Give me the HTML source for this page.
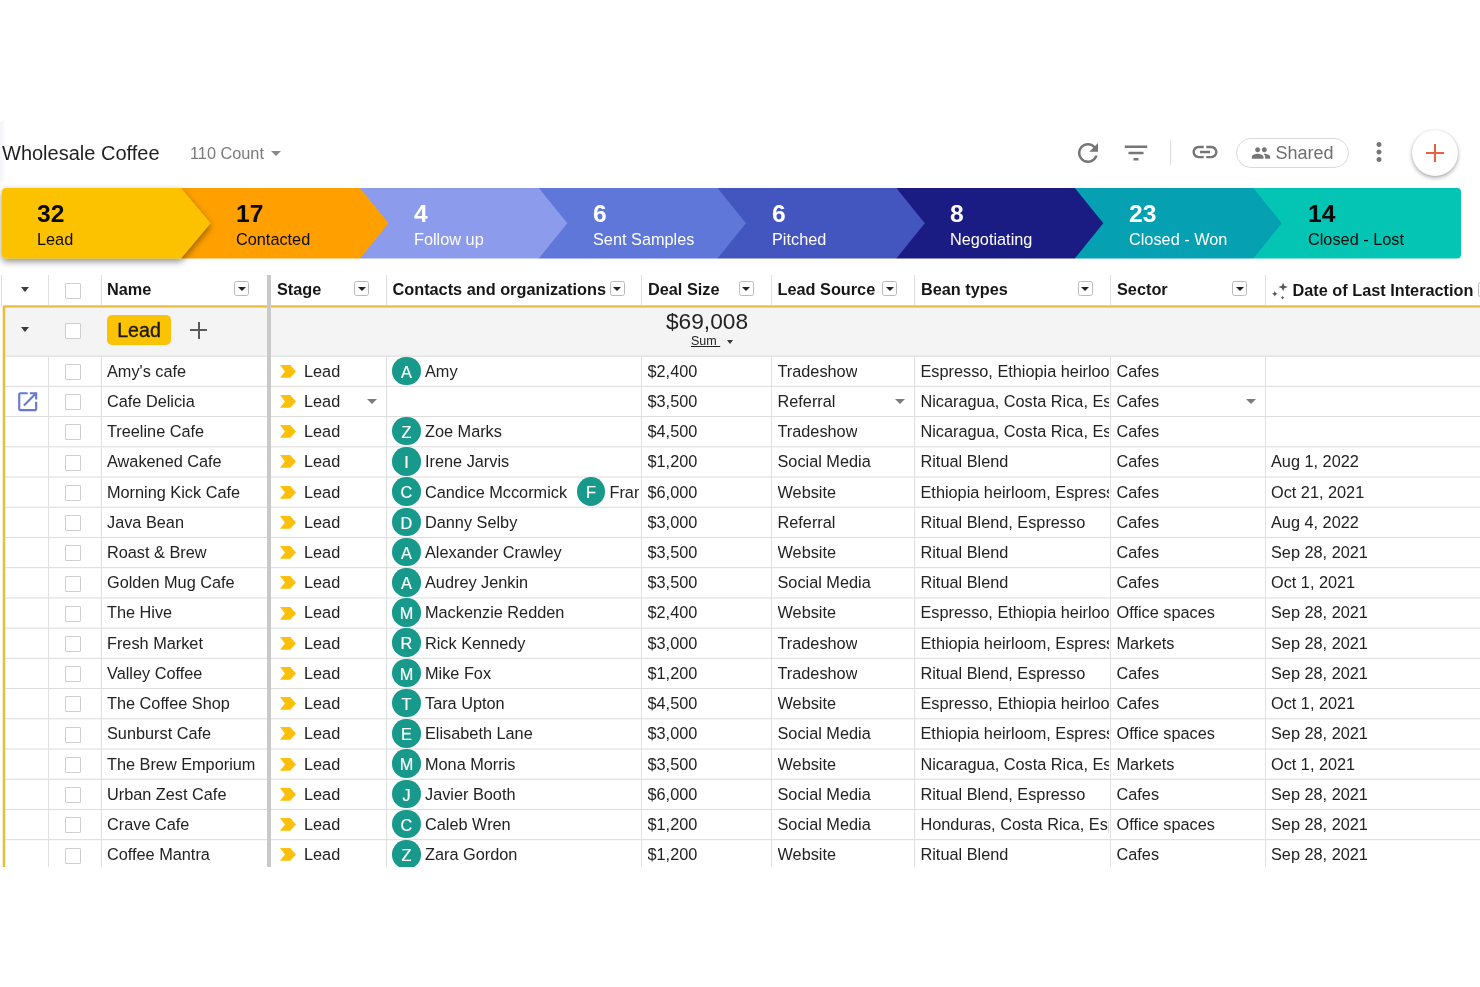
<!DOCTYPE html><html><head><meta charset="utf-8"><title>Wholesale Coffee</title><style>
*{box-sizing:border-box;margin:0;padding:0}
html,body{width:1480px;height:987px;background:#fff;overflow:hidden}
body{font-family:"Liberation Sans",sans-serif;color:#222;position:relative}
.abs{position:absolute}
.title{left:2px;top:141px;font-size:20px;line-height:24px;color:#1f1f1f;white-space:nowrap}
.count{left:190px;top:142.7px;font-size:16.3px;line-height:20px;color:#7a7a7a;white-space:nowrap}
.tri{width:0;height:0;border-left:5px solid transparent;border-right:5px solid transparent;border-top:5px solid #8a8a8a}
.pill{left:1236px;top:138px;width:113px;height:30px;border:1px solid #dadada;border-radius:15px;background:#fff}
.shared{left:1275.5px;top:141.6px;font-size:18px;line-height:22px;color:#6e6e6e}
.fab{left:1412px;top:130px;width:46px;height:46px;border-radius:50%;background:#fff;box-shadow:0 2px 4px rgba(0,0,0,.32),0 0 2px rgba(0,0,0,.12)}
.num{font-weight:bold;font-size:24.6px;line-height:28px;white-space:nowrap}
.lab{font-size:16.3px;line-height:20px;white-space:nowrap}
.w{color:#fff}.k{color:#0a0a0a}
.vl{width:1px;background:#e0e0e0}
.hl{height:1px;background:#dedede;left:5px;right:0}
.hd{font-weight:bold;font-size:16.3px;line-height:20px;top:280px;color:#161616;white-space:nowrap}
.dd{width:15px;height:15px;top:282px;border:1px solid #bbb;border-radius:2.5px;background:#fff}
.dd:after{content:"";position:absolute;left:2.5px;top:5px;border-left:4px solid transparent;border-right:4px solid transparent;border-top:4px solid #222}
.cb{width:16px;height:16px;border:1px solid #cfcfcf;border-radius:1px;background:#fff;left:65px}
.t{font-size:16.3px;line-height:30px;height:30px;white-space:nowrap;overflow:hidden;color:#222}
.av{width:28.2px;height:28.6px;border-radius:50%;background:#17998b;color:#fff;font-size:16.3px;line-height:30px;text-align:center;-webkit-text-stroke:0.2px #fff}
</style></head><body><div class="abs" style="left:0;top:0;width:1480px;height:987px;will-change:transform">
<div class="abs" style="left:0;top:120px;width:6px;height:62px;border-top-left-radius:4px;background:linear-gradient(90deg,#f3f3f9,#fff)"></div>
<div class="abs title">Wholesale Coffee</div>
<div class="abs count">110 Count</div>
<div class="abs tri" style="left:271px;top:151px"></div>
<svg class="abs" style="left:1073.3px;top:137.5px" width="30" height="30" viewBox="0 0 24 24"><path fill="#757575" d="M17.65 6.35C16.2 4.9 14.21 4 12 4c-4.42 0-7.99 3.58-7.99 8s3.57 8 7.99 8c3.73 0 6.84-2.55 7.73-6h-2.08c-.82 2.33-3.04 4-5.65 4-3.31 0-6-2.69-6-6s2.69-6 6-6c1.66 0 3.14.69 4.22 1.78L13 11h7V4l-2.35 2.35z"/></svg>
<svg class="abs" style="left:1121px;top:137.6px" width="30" height="30" viewBox="0 0 24 24"><path fill="#757575" d="M10 18h4v-2h-4v2zM3 6v2h18V6H3zm3 7h12v-2H6v2z"/></svg>
<div class="abs" style="left:1170px;top:140px;width:1px;height:25px;background:#dcdcdc"></div>
<svg class="abs" style="left:1190.2px;top:137.3px" width="30" height="30" viewBox="0 0 24 24"><path fill="#757575" d="M3.9 12c0-1.71 1.39-3.1 3.1-3.1h4V7H7c-2.76 0-5 2.24-5 5s2.24 5 5 5h4v-1.9H7c-1.71 0-3.1-1.39-3.1-3.1zM8 13h8v-2H8v2zm9-6h-4v1.9h4c1.71 0 3.1 1.39 3.1 3.1s-1.39 3.1-3.1 3.1h-4V17h4c2.76 0 5-2.24 5-5s-2.24-5-5-5z"/></svg>
<div class="abs pill"></div>
<svg class="abs" style="left:1251.4px;top:142.8px" width="20" height="20" viewBox="0 0 24 24"><path fill="#757575" d="M16 11c1.66 0 2.99-1.34 2.99-3S17.660 5 16 5c-1.660 0-3 1.340-3 3s1.340 3 3 3zm-8 0c1.660 0 2.990-1.340 2.990-3S9.660 5 8 5C6.340 5 5 6.340 5 8s1.340 3 3 3zm0 2c-2.330 0-7 1.170-7 3.500V19h14v-2.500c0-2.330-4.670-3.500-7-3.500zm8 0c-.290 0-.620.020-.970.050 1.160.840 1.970 1.970 1.970 3.450V19h6v-2.500c0-2.330-4.670-3.500-7-3.500z"/></svg>
<div class="abs shared">Shared</div>
<svg class="abs" style="left:1363.5px;top:137.1px" width="30" height="30" viewBox="0 0 24 24"><path fill="#757575" d="M12 8c1.100 0 2-.900 2-2s-.900-2-2-2-2 .900-2 2 .900 2 2 2zm0 2c-1.100 0-2 .900-2 2s.900 2 2 2 2-.900 2-2-.900-2-2-2zm0 6c-1.100 0-2 .900-2 2s.900 2 2 2 2-.900 2-2-.900-2-2-2z"/></svg>
<div class="abs fab"></div>
<div class="abs" style="left:1426px;top:151.5px;width:18px;height:2.2px;background:#e8603c"></div>
<div class="abs" style="left:1433.9px;top:143.7px;width:2.2px;height:18px;background:#e8603c"></div>
<svg class="abs" style="left:0;top:170px" width="1480" height="110" viewBox="0 170 1480 110"><defs><filter id="sh" x="-10%" y="-30%" width="125%" height="170%"><feDropShadow dx="0" dy="3" stdDeviation="3.8" flood-color="#000" flood-opacity="0.45"/></filter></defs><path d="M1253.3 188H1457Q1461 188 1461 192V254.5Q1461 258.5 1457 258.5H1253.3Z" fill="#04c4b3"/><path d="M1074.8 188H1253.3L1281.8 223.25L1253.3 258.5H1074.8Z" fill="#05a0b2"/><path d="M896.3 188H1074.8L1103.3 223.25L1074.8 258.5H896.3Z" fill="#1a1c83"/><path d="M717.5 188H896.3L924.8 223.25L896.3 258.5H717.5Z" fill="#4355be"/><path d="M538.8 188H717.5L746.0 223.25L717.5 258.5H538.8Z" fill="#5e77d9"/><path d="M360 188H538.8L567.3 223.25L538.8 258.5H360Z" fill="#8c9beb"/><path d="M181 188H360L388.5 223.25L360 258.5H181Z" fill="#ffa000"/><path d="M6 188H181L210.5 223.25L181 258.5H6Q2 258.5 2 254.5V192Q2 188 6 188Z" fill="#fcc204" filter="url(#sh)"/></svg>
<div class="abs num k" style="left:37px;top:200.1px">32</div>
<div class="abs lab k" style="left:37px;top:228.6px">Lead</div>
<div class="abs num k" style="left:236px;top:200.1px">17</div>
<div class="abs lab k" style="left:236px;top:228.6px">Contacted</div>
<div class="abs num w" style="left:414px;top:200.1px">4</div>
<div class="abs lab w" style="left:414px;top:228.6px">Follow up</div>
<div class="abs num w" style="left:593px;top:200.1px">6</div>
<div class="abs lab w" style="left:593px;top:228.6px">Sent Samples</div>
<div class="abs num w" style="left:772px;top:200.1px">6</div>
<div class="abs lab w" style="left:772px;top:228.6px">Pitched</div>
<div class="abs num w" style="left:950px;top:200.1px">8</div>
<div class="abs lab w" style="left:950px;top:228.6px">Negotiating</div>
<div class="abs num w" style="left:1129px;top:200.1px">23</div>
<div class="abs lab w" style="left:1129px;top:228.6px">Closed - Won</div>
<div class="abs num k" style="left:1308px;top:200.1px">14</div>
<div class="abs lab k" style="left:1308px;top:228.6px">Closed - Lost</div>
<div class="abs" style="left:0;top:270px;width:1480px;height:596.5px;overflow:hidden">
<div class="abs" style="left:3px;top:37px;width:1477px;height:49px;background:#f4f4f4"></div>
<div class="abs" style="left:1px;top:5px;width:1px;height:31px;background:#dcdcdc"></div>
<svg class="abs" style="left:0;top:36px" width="8" height="600" viewBox="0 0 8 600"><rect x="2.7" y="0" width="2.5" height="600" fill="#e9be3e"/></svg>
<svg class="abs" style="left:0;top:30px" width="1480" height="12" viewBox="0 0 1480 12"><rect x="3" y="5.3" width="1477" height="2.3" fill="#e9be3e"/></svg>
<svg class="abs" style="left:0;top:0" width="1480" height="600" viewBox="0 0 1480 600"><rect x="5" y="85.65" width="1475" height="1" fill="#dbdbdb"/><rect x="5" y="115.87" width="1475" height="1" fill="#dbdbdb"/><rect x="5" y="146.09" width="1475" height="1" fill="#dbdbdb"/><rect x="5" y="176.31" width="1475" height="1" fill="#dbdbdb"/><rect x="5" y="206.53" width="1475" height="1" fill="#dbdbdb"/><rect x="5" y="236.75" width="1475" height="1" fill="#dbdbdb"/><rect x="5" y="266.97" width="1475" height="1" fill="#dbdbdb"/><rect x="5" y="297.19" width="1475" height="1" fill="#dbdbdb"/><rect x="5" y="327.41" width="1475" height="1" fill="#dbdbdb"/><rect x="5" y="357.63" width="1475" height="1" fill="#dbdbdb"/><rect x="5" y="387.85" width="1475" height="1" fill="#dbdbdb"/><rect x="5" y="418.07" width="1475" height="1" fill="#dbdbdb"/><rect x="5" y="448.29" width="1475" height="1" fill="#dbdbdb"/><rect x="5" y="478.51" width="1475" height="1" fill="#dbdbdb"/><rect x="5" y="508.73" width="1475" height="1" fill="#dbdbdb"/><rect x="5" y="538.95" width="1475" height="1" fill="#dbdbdb"/><rect x="5" y="569.17" width="1475" height="1" fill="#dbdbdb"/><rect x="5" y="599.39" width="1475" height="1" fill="#dbdbdb"/></svg>
<div class="abs vl" style="left:48px;top:5px;height:30px"></div>
<div class="abs vl" style="left:48px;top:86px;height:700px"></div>
<div class="abs vl" style="left:101px;top:5px;height:30px"></div>
<div class="abs vl" style="left:101px;top:86px;height:700px"></div>
<div class="abs vl" style="left:386px;top:5px;height:30px"></div>
<div class="abs vl" style="left:386px;top:86px;height:700px"></div>
<div class="abs vl" style="left:641px;top:5px;height:30px"></div>
<div class="abs vl" style="left:641px;top:86px;height:700px"></div>
<div class="abs vl" style="left:771px;top:5px;height:30px"></div>
<div class="abs vl" style="left:771px;top:86px;height:700px"></div>
<div class="abs vl" style="left:914px;top:5px;height:30px"></div>
<div class="abs vl" style="left:914px;top:86px;height:700px"></div>
<div class="abs vl" style="left:1110px;top:5px;height:30px"></div>
<div class="abs vl" style="left:1110px;top:86px;height:700px"></div>
<div class="abs vl" style="left:1265px;top:5px;height:30px"></div>
<div class="abs vl" style="left:1265px;top:86px;height:700px"></div>
<div class="abs" style="left:267px;top:5px;width:4px;height:700px;background:#c9c9c9"></div>
<div class="abs" style="left:21px;top:16.600000000000023px;border-left:4px solid transparent;border-right:4px solid transparent;border-top:5px solid #3a3a3a;width:0;height:0"></div>
<div class="abs cb" style="top:12.5px"></div>
<div class="abs hd" style="left:107px;top:9px">Name</div>
<div class="abs dd" style="left:234px;top:11.199999999999989px"></div>
<div class="abs hd" style="left:277px;top:9px">Stage</div>
<div class="abs dd" style="left:354px;top:11.199999999999989px"></div>
<div class="abs hd" style="left:392.5px;top:9px">Contacts and organizations</div>
<div class="abs dd" style="left:609.5px;top:11.199999999999989px"></div>
<div class="abs hd" style="left:648px;top:9px">Deal Size</div>
<div class="abs dd" style="left:738.5px;top:11.199999999999989px"></div>
<div class="abs hd" style="left:777.5px;top:9px">Lead Source</div>
<div class="abs dd" style="left:882px;top:11.199999999999989px"></div>
<div class="abs hd" style="left:921px;top:9px">Bean types</div>
<div class="abs dd" style="left:1077.5px;top:11.199999999999989px"></div>
<div class="abs hd" style="left:1117px;top:9px">Sector</div>
<div class="abs dd" style="left:1232px;top:11.199999999999989px"></div>
<div class="abs hd" style="left:1292.5px;top:10px">Date of Last Interaction</div>
<div class="abs dd" style="left:1478px;top:12.199999999999989px"></div>
<svg class="abs" style="left:1270px;top:12px" width="20" height="20" viewBox="0 0 20 20"><g fill="#555"><path d="M13.1 0.8 L14.3 3.8 L17.9 5 L14.3 6.2 L13.1 9.2 L11.9 6.2 L8.3 5 L11.9 3.8Z"/><path d="M4.8 9 L5.7 10.9 L7.6 11.8 L5.7 12.7 L4.8 14.6 L3.9 12.7 L2 11.8 L3.9 10.9Z"/><path d="M12.6 13.7 L13.2 15.1 L14.6 15.7 L13.2 16.3 L12.6 17.7 L12 16.3 L10.6 15.7 L12 15.1Z"/></g></svg>
<div class="abs" style="left:21px;top:57px;border-left:4px solid transparent;border-right:4px solid transparent;border-top:5px solid #3a3a3a;width:0;height:0"></div>
<div class="abs cb" style="top:52.5px"></div>
<div class="abs" style="left:107px;top:45px;width:64px;height:30px;border-radius:5px;background:#fcc204;font-size:19.6px;line-height:30px;text-align:center;color:#1a1a1a;-webkit-text-stroke:0.35px #1a1a1a">Lead</div>
<div class="abs" style="left:190px;top:59px;width:17px;height:2px;background:#5a5a5a"></div>
<div class="abs" style="left:197.5px;top:51.5px;width:2px;height:17px;background:#5a5a5a"></div>
<div class="abs" style="left:642px;top:38px;width:130px;text-align:center;font-size:22.7px;line-height:26px;color:#222">$69,008</div>
<div class="abs" style="left:691px;top:64px;font-size:12.5px;line-height:14px;color:#222;text-decoration:underline;white-space:pre">Sum </div>
<div class="abs" style="left:727px;top:70px;border-left:3.8px solid transparent;border-right:3.8px solid transparent;border-top:4px solid #333;width:0;height:0"></div>
<div class="abs cb" style="top:94.0px"></div>
<div class="abs t" style="left:107px;top:85.5px;width:159px">Amy's cafe</div>
<svg class="abs" style="left:280px;top:94.8px" width="16" height="13" viewBox="0 0 16 13"><path fill="#fcc00c" d="M0 0H10.3L16 6.4L10.3 12.8H0L4.9 6.4Z"/></svg>
<div class="abs t" style="left:304px;top:85.5px">Lead</div>
<div class="abs" style="left:387px;top:86px;width:252.3px;height:31px;overflow:hidden">
<div class="abs av" style="left:5.4px;top:0.5px">A</div>
<div class="abs t" style="left:38.0px;top:-0.5px;overflow:visible">Amy</div>
</div>
<div class="abs t" style="left:647.5px;top:85.5px">$2,400</div>
<div class="abs t" style="left:777.5px;top:85.5px">Tradeshow</div>
<div class="abs t" style="left:920.5px;top:85.5px;width:188.5px">Espresso, Ethiopia heirloom</div>
<div class="abs t" style="left:1116.5px;top:85.5px">Cafes</div>
<div class="abs cb" style="top:124.2px"></div>
<div class="abs t" style="left:107px;top:115.5px;width:159px">Cafe Delicia</div>
<svg class="abs" style="left:280px;top:125.0px" width="16" height="13" viewBox="0 0 16 13"><path fill="#fcc00c" d="M0 0H10.3L16 6.4L10.3 12.8H0L4.9 6.4Z"/></svg>
<div class="abs t" style="left:304px;top:115.5px">Lead</div>
<div class="abs t" style="left:647.5px;top:115.5px">$3,500</div>
<div class="abs t" style="left:777.5px;top:115.5px">Referral</div>
<div class="abs t" style="left:920.5px;top:115.5px;width:188.5px">Nicaragua, Costa Rica, Espresso</div>
<div class="abs t" style="left:1116.5px;top:115.5px">Cafes</div>
<svg class="abs" style="left:14.5px;top:118.89999999999998px" width="25.4" height="25.4" viewBox="0 0 24 24"><path fill="#6478d4" d="M19 19H5V5h7V3H5c-1.110 0-2 .900-2 2v14c0 1.100.890 2 2 2h14c1.100 0 2-.900 2-2v-7h-2v7zM14 3v2h3.590l-9.830 9.830 1.410 1.410L19 6.410V10h2V3h-7z"/></svg>
<div class="abs" style="left:367px;top:129.3px;border-left:5px solid transparent;border-right:5px solid transparent;border-top:5px solid #7b7b7b;width:0;height:0"></div>
<div class="abs" style="left:894.5px;top:129.3px;border-left:5px solid transparent;border-right:5px solid transparent;border-top:5px solid #7b7b7b;width:0;height:0"></div>
<div class="abs" style="left:1245.5px;top:129.3px;border-left:5px solid transparent;border-right:5px solid transparent;border-top:5px solid #7b7b7b;width:0;height:0"></div>
<div class="abs cb" style="top:154.4px"></div>
<div class="abs t" style="left:107px;top:145.5px;width:159px">Treeline Cafe</div>
<svg class="abs" style="left:280px;top:155.2px" width="16" height="13" viewBox="0 0 16 13"><path fill="#fcc00c" d="M0 0H10.3L16 6.4L10.3 12.8H0L4.9 6.4Z"/></svg>
<div class="abs t" style="left:304px;top:145.5px">Lead</div>
<div class="abs" style="left:387px;top:146px;width:252.3px;height:31px;overflow:hidden">
<div class="abs av" style="left:5.4px;top:0.9px">Z</div>
<div class="abs t" style="left:38.0px;top:-0.5px;overflow:visible">Zoe Marks</div>
</div>
<div class="abs t" style="left:647.5px;top:145.5px">$4,500</div>
<div class="abs t" style="left:777.5px;top:145.5px">Tradeshow</div>
<div class="abs t" style="left:920.5px;top:145.5px;width:188.5px">Nicaragua, Costa Rica, Espresso</div>
<div class="abs t" style="left:1116.5px;top:145.5px">Cafes</div>
<div class="abs cb" style="top:184.6px"></div>
<div class="abs t" style="left:107px;top:175.5px;width:159px">Awakened Cafe</div>
<svg class="abs" style="left:280px;top:185.4px" width="16" height="13" viewBox="0 0 16 13"><path fill="#fcc00c" d="M0 0H10.3L16 6.4L10.3 12.8H0L4.9 6.4Z"/></svg>
<div class="abs t" style="left:304px;top:175.5px">Lead</div>
<div class="abs" style="left:387px;top:176px;width:252.3px;height:31px;overflow:hidden">
<div class="abs av" style="left:5.4px;top:1.1px">I</div>
<div class="abs t" style="left:38.0px;top:-0.5px;overflow:visible">Irene Jarvis</div>
</div>
<div class="abs t" style="left:647.5px;top:175.5px">$1,200</div>
<div class="abs t" style="left:777.5px;top:175.5px">Social Media</div>
<div class="abs t" style="left:920.5px;top:175.5px;width:188.5px">Ritual Blend</div>
<div class="abs t" style="left:1116.5px;top:175.5px">Cafes</div>
<div class="abs t" style="left:1271px;top:175.5px">Aug 1, 2022</div>
<div class="abs cb" style="top:214.8px"></div>
<div class="abs t" style="left:107px;top:206.5px;width:159px">Morning Kick Cafe</div>
<svg class="abs" style="left:280px;top:215.6px" width="16" height="13" viewBox="0 0 16 13"><path fill="#fcc00c" d="M0 0H10.3L16 6.4L10.3 12.8H0L4.9 6.4Z"/></svg>
<div class="abs t" style="left:304px;top:206.5px">Lead</div>
<div class="abs" style="left:387px;top:207px;width:252.3px;height:31px;overflow:hidden">
<div class="abs av" style="left:5.4px;top:0.3px">C</div>
<div class="abs t" style="left:38.0px;top:-0.5px;overflow:visible">Candice Mccormick</div>
<div class="abs av" style="left:189.9px;top:0.3px">F</div>
<div class="abs t" style="left:222.5px;top:-0.5px;overflow:visible">Francis Hall</div>
</div>
<div class="abs t" style="left:647.5px;top:206.5px">$6,000</div>
<div class="abs t" style="left:777.5px;top:206.5px">Website</div>
<div class="abs t" style="left:920.5px;top:206.5px;width:188.5px">Ethiopia heirloom, Espresso</div>
<div class="abs t" style="left:1116.5px;top:206.5px">Cafes</div>
<div class="abs t" style="left:1271px;top:206.5px">Oct 21, 2021</div>
<div class="abs cb" style="top:245.1px"></div>
<div class="abs t" style="left:107px;top:236.5px;width:159px">Java Bean</div>
<svg class="abs" style="left:280px;top:245.9px" width="16" height="13" viewBox="0 0 16 13"><path fill="#fcc00c" d="M0 0H10.3L16 6.4L10.3 12.8H0L4.9 6.4Z"/></svg>
<div class="abs t" style="left:304px;top:236.5px">Lead</div>
<div class="abs" style="left:387px;top:237px;width:252.3px;height:31px;overflow:hidden">
<div class="abs av" style="left:5.4px;top:0.6px">D</div>
<div class="abs t" style="left:38.0px;top:-0.5px;overflow:visible">Danny Selby</div>
</div>
<div class="abs t" style="left:647.5px;top:236.5px">$3,000</div>
<div class="abs t" style="left:777.5px;top:236.5px">Referral</div>
<div class="abs t" style="left:920.5px;top:236.5px;width:188.5px">Ritual Blend, Espresso</div>
<div class="abs t" style="left:1116.5px;top:236.5px">Cafes</div>
<div class="abs t" style="left:1271px;top:236.5px">Aug 4, 2022</div>
<div class="abs cb" style="top:275.3px"></div>
<div class="abs t" style="left:107px;top:266.5px;width:159px">Roast &amp; Brew</div>
<svg class="abs" style="left:280px;top:276.1px" width="16" height="13" viewBox="0 0 16 13"><path fill="#fcc00c" d="M0 0H10.3L16 6.4L10.3 12.8H0L4.9 6.4Z"/></svg>
<div class="abs t" style="left:304px;top:266.5px">Lead</div>
<div class="abs" style="left:387px;top:267px;width:252.3px;height:31px;overflow:hidden">
<div class="abs av" style="left:5.4px;top:0.8px">A</div>
<div class="abs t" style="left:38.0px;top:-0.5px;overflow:visible">Alexander Crawley</div>
</div>
<div class="abs t" style="left:647.5px;top:266.5px">$3,500</div>
<div class="abs t" style="left:777.5px;top:266.5px">Website</div>
<div class="abs t" style="left:920.5px;top:266.5px;width:188.5px">Ritual Blend</div>
<div class="abs t" style="left:1116.5px;top:266.5px">Cafes</div>
<div class="abs t" style="left:1271px;top:266.5px">Sep 28, 2021</div>
<div class="abs cb" style="top:305.5px"></div>
<div class="abs t" style="left:107px;top:296.5px;width:159px">Golden Mug Cafe</div>
<svg class="abs" style="left:280px;top:306.3px" width="16" height="13" viewBox="0 0 16 13"><path fill="#fcc00c" d="M0 0H10.3L16 6.4L10.3 12.8H0L4.9 6.4Z"/></svg>
<div class="abs t" style="left:304px;top:296.5px">Lead</div>
<div class="abs" style="left:387px;top:297px;width:252.3px;height:31px;overflow:hidden">
<div class="abs av" style="left:5.4px;top:1.0px">A</div>
<div class="abs t" style="left:38.0px;top:-0.5px;overflow:visible">Audrey Jenkin</div>
</div>
<div class="abs t" style="left:647.5px;top:296.5px">$3,500</div>
<div class="abs t" style="left:777.5px;top:296.5px">Social Media</div>
<div class="abs t" style="left:920.5px;top:296.5px;width:188.5px">Ritual Blend</div>
<div class="abs t" style="left:1116.5px;top:296.5px">Cafes</div>
<div class="abs t" style="left:1271px;top:296.5px">Oct 1, 2021</div>
<div class="abs cb" style="top:335.7px"></div>
<div class="abs t" style="left:107px;top:326.5px;width:159px">The Hive</div>
<svg class="abs" style="left:280px;top:336.5px" width="16" height="13" viewBox="0 0 16 13"><path fill="#fcc00c" d="M0 0H10.3L16 6.4L10.3 12.8H0L4.9 6.4Z"/></svg>
<div class="abs t" style="left:304px;top:326.5px">Lead</div>
<div class="abs" style="left:387px;top:327px;width:252.3px;height:31px;overflow:hidden">
<div class="abs av" style="left:5.4px;top:1.2px">M</div>
<div class="abs t" style="left:38.0px;top:-0.5px;overflow:visible">Mackenzie Redden</div>
</div>
<div class="abs t" style="left:647.5px;top:326.5px">$2,400</div>
<div class="abs t" style="left:777.5px;top:326.5px">Website</div>
<div class="abs t" style="left:920.5px;top:326.5px;width:188.5px">Espresso, Ethiopia heirloom</div>
<div class="abs t" style="left:1116.5px;top:326.5px">Office spaces</div>
<div class="abs t" style="left:1271px;top:326.5px">Sep 28, 2021</div>
<div class="abs cb" style="top:365.9px"></div>
<div class="abs t" style="left:107px;top:357.5px;width:159px">Fresh Market</div>
<svg class="abs" style="left:280px;top:366.7px" width="16" height="13" viewBox="0 0 16 13"><path fill="#fcc00c" d="M0 0H10.3L16 6.4L10.3 12.8H0L4.9 6.4Z"/></svg>
<div class="abs t" style="left:304px;top:357.5px">Lead</div>
<div class="abs" style="left:387px;top:358px;width:252.3px;height:31px;overflow:hidden">
<div class="abs av" style="left:5.4px;top:0.4px">R</div>
<div class="abs t" style="left:38.0px;top:-0.5px;overflow:visible">Rick Kennedy</div>
</div>
<div class="abs t" style="left:647.5px;top:357.5px">$3,000</div>
<div class="abs t" style="left:777.5px;top:357.5px">Tradeshow</div>
<div class="abs t" style="left:920.5px;top:357.5px;width:188.5px">Ethiopia heirloom, Espresso</div>
<div class="abs t" style="left:1116.5px;top:357.5px">Markets</div>
<div class="abs t" style="left:1271px;top:357.5px">Sep 28, 2021</div>
<div class="abs cb" style="top:396.2px"></div>
<div class="abs t" style="left:107px;top:387.5px;width:159px">Valley Coffee</div>
<svg class="abs" style="left:280px;top:397.0px" width="16" height="13" viewBox="0 0 16 13"><path fill="#fcc00c" d="M0 0H10.3L16 6.4L10.3 12.8H0L4.9 6.4Z"/></svg>
<div class="abs t" style="left:304px;top:387.5px">Lead</div>
<div class="abs" style="left:387px;top:388px;width:252.3px;height:31px;overflow:hidden">
<div class="abs av" style="left:5.4px;top:0.7px">M</div>
<div class="abs t" style="left:38.0px;top:-0.5px;overflow:visible">Mike Fox</div>
</div>
<div class="abs t" style="left:647.5px;top:387.5px">$1,200</div>
<div class="abs t" style="left:777.5px;top:387.5px">Tradeshow</div>
<div class="abs t" style="left:920.5px;top:387.5px;width:188.5px">Ritual Blend, Espresso</div>
<div class="abs t" style="left:1116.5px;top:387.5px">Cafes</div>
<div class="abs t" style="left:1271px;top:387.5px">Sep 28, 2021</div>
<div class="abs cb" style="top:426.4px"></div>
<div class="abs t" style="left:107px;top:417.5px;width:159px">The Coffee Shop</div>
<svg class="abs" style="left:280px;top:427.2px" width="16" height="13" viewBox="0 0 16 13"><path fill="#fcc00c" d="M0 0H10.3L16 6.4L10.3 12.8H0L4.9 6.4Z"/></svg>
<div class="abs t" style="left:304px;top:417.5px">Lead</div>
<div class="abs" style="left:387px;top:418px;width:252.3px;height:31px;overflow:hidden">
<div class="abs av" style="left:5.4px;top:0.9px">T</div>
<div class="abs t" style="left:38.0px;top:-0.5px;overflow:visible">Tara Upton</div>
</div>
<div class="abs t" style="left:647.5px;top:417.5px">$4,500</div>
<div class="abs t" style="left:777.5px;top:417.5px">Website</div>
<div class="abs t" style="left:920.5px;top:417.5px;width:188.5px">Espresso, Ethiopia heirloom</div>
<div class="abs t" style="left:1116.5px;top:417.5px">Cafes</div>
<div class="abs t" style="left:1271px;top:417.5px">Oct 1, 2021</div>
<div class="abs cb" style="top:456.6px"></div>
<div class="abs t" style="left:107px;top:447.5px;width:159px">Sunburst Cafe</div>
<svg class="abs" style="left:280px;top:457.4px" width="16" height="13" viewBox="0 0 16 13"><path fill="#fcc00c" d="M0 0H10.3L16 6.4L10.3 12.8H0L4.9 6.4Z"/></svg>
<div class="abs t" style="left:304px;top:447.5px">Lead</div>
<div class="abs" style="left:387px;top:448px;width:252.3px;height:31px;overflow:hidden">
<div class="abs av" style="left:5.4px;top:1.1px">E</div>
<div class="abs t" style="left:38.0px;top:-0.5px;overflow:visible">Elisabeth Lane</div>
</div>
<div class="abs t" style="left:647.5px;top:447.5px">$3,000</div>
<div class="abs t" style="left:777.5px;top:447.5px">Social Media</div>
<div class="abs t" style="left:920.5px;top:447.5px;width:188.5px">Ethiopia heirloom, Espresso</div>
<div class="abs t" style="left:1116.5px;top:447.5px">Office spaces</div>
<div class="abs t" style="left:1271px;top:447.5px">Sep 28, 2021</div>
<div class="abs cb" style="top:486.8px"></div>
<div class="abs t" style="left:107px;top:478.5px;width:159px">The Brew Emporium</div>
<svg class="abs" style="left:280px;top:487.6px" width="16" height="13" viewBox="0 0 16 13"><path fill="#fcc00c" d="M0 0H10.3L16 6.4L10.3 12.8H0L4.9 6.4Z"/></svg>
<div class="abs t" style="left:304px;top:478.5px">Lead</div>
<div class="abs" style="left:387px;top:479px;width:252.3px;height:31px;overflow:hidden">
<div class="abs av" style="left:5.4px;top:0.3px">M</div>
<div class="abs t" style="left:38.0px;top:-0.5px;overflow:visible">Mona Morris</div>
</div>
<div class="abs t" style="left:647.5px;top:478.5px">$3,500</div>
<div class="abs t" style="left:777.5px;top:478.5px">Website</div>
<div class="abs t" style="left:920.5px;top:478.5px;width:188.5px">Nicaragua, Costa Rica, Espresso</div>
<div class="abs t" style="left:1116.5px;top:478.5px">Markets</div>
<div class="abs t" style="left:1271px;top:478.5px">Oct 1, 2021</div>
<div class="abs cb" style="top:517.0px"></div>
<div class="abs t" style="left:107px;top:508.5px;width:159px">Urban Zest Cafe</div>
<svg class="abs" style="left:280px;top:517.8px" width="16" height="13" viewBox="0 0 16 13"><path fill="#fcc00c" d="M0 0H10.3L16 6.4L10.3 12.8H0L4.9 6.4Z"/></svg>
<div class="abs t" style="left:304px;top:508.5px">Lead</div>
<div class="abs" style="left:387px;top:509px;width:252.3px;height:31px;overflow:hidden">
<div class="abs av" style="left:5.4px;top:0.5px">J</div>
<div class="abs t" style="left:38.0px;top:-0.5px;overflow:visible">Javier Booth</div>
</div>
<div class="abs t" style="left:647.5px;top:508.5px">$6,000</div>
<div class="abs t" style="left:777.5px;top:508.5px">Social Media</div>
<div class="abs t" style="left:920.5px;top:508.5px;width:188.5px">Ritual Blend, Espresso</div>
<div class="abs t" style="left:1116.5px;top:508.5px">Cafes</div>
<div class="abs t" style="left:1271px;top:508.5px">Sep 28, 2021</div>
<div class="abs cb" style="top:547.3px"></div>
<div class="abs t" style="left:107px;top:538.5px;width:159px">Crave Cafe</div>
<svg class="abs" style="left:280px;top:548.1px" width="16" height="13" viewBox="0 0 16 13"><path fill="#fcc00c" d="M0 0H10.3L16 6.4L10.3 12.8H0L4.9 6.4Z"/></svg>
<div class="abs t" style="left:304px;top:538.5px">Lead</div>
<div class="abs" style="left:387px;top:539px;width:252.3px;height:31px;overflow:hidden">
<div class="abs av" style="left:5.4px;top:0.8px">C</div>
<div class="abs t" style="left:38.0px;top:-0.5px;overflow:visible">Caleb Wren</div>
</div>
<div class="abs t" style="left:647.5px;top:538.5px">$1,200</div>
<div class="abs t" style="left:777.5px;top:538.5px">Social Media</div>
<div class="abs t" style="left:920.5px;top:538.5px;width:188.5px">Honduras, Costa Rica, Espresso</div>
<div class="abs t" style="left:1116.5px;top:538.5px">Office spaces</div>
<div class="abs t" style="left:1271px;top:538.5px">Sep 28, 2021</div>
<div class="abs cb" style="top:577.5px"></div>
<div class="abs t" style="left:107px;top:568.5px;width:159px">Coffee Mantra</div>
<svg class="abs" style="left:280px;top:578.3px" width="16" height="13" viewBox="0 0 16 13"><path fill="#fcc00c" d="M0 0H10.3L16 6.4L10.3 12.8H0L4.9 6.4Z"/></svg>
<div class="abs t" style="left:304px;top:568.5px">Lead</div>
<div class="abs" style="left:387px;top:569px;width:252.3px;height:31px;overflow:hidden">
<div class="abs av" style="left:5.4px;top:1.0px">Z</div>
<div class="abs t" style="left:38.0px;top:-0.5px;overflow:visible">Zara Gordon</div>
</div>
<div class="abs t" style="left:647.5px;top:568.5px">$1,200</div>
<div class="abs t" style="left:777.5px;top:568.5px">Website</div>
<div class="abs t" style="left:920.5px;top:568.5px;width:188.5px">Ritual Blend</div>
<div class="abs t" style="left:1116.5px;top:568.5px">Cafes</div>
<div class="abs t" style="left:1271px;top:568.5px">Sep 28, 2021</div>
</div>
</div></body></html>
